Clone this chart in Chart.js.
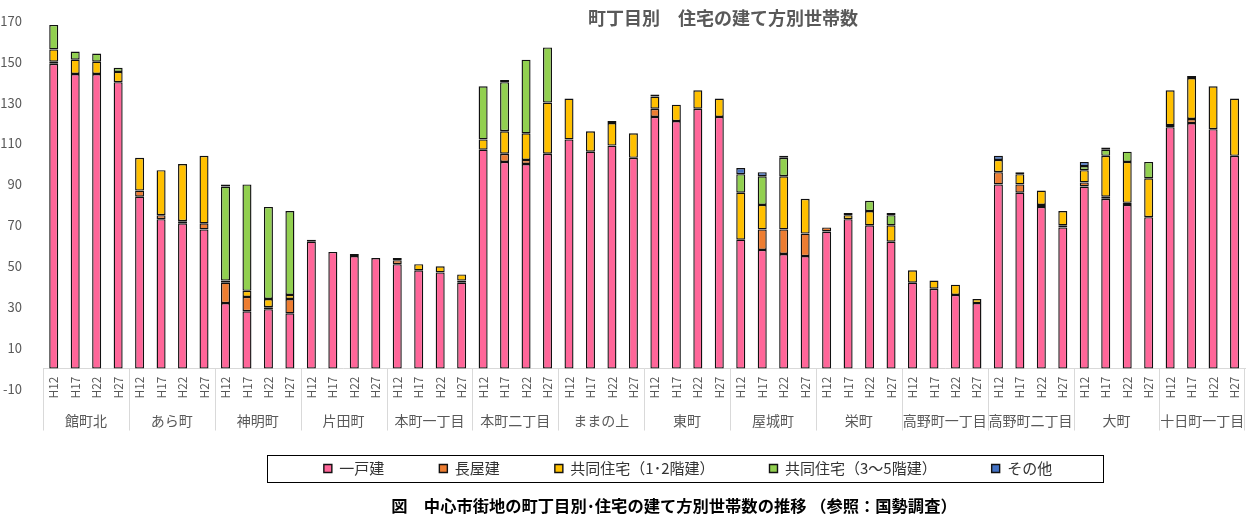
<!DOCTYPE html>
<html>
<head>
<meta charset="utf-8">
<script src="https://cdn.jsdelivr.net/npm/chart.js@4/dist/chart.umd.min.js"></script>
<style>
html, body { margin: 0; padding: 0; background: #ffffff; }
canvas { display: block; }
</style>
</head>
<body>
<canvas id="c" width="1257" height="515"></canvas>
<script>
// ---------- data ----------
const groups = ['館町北', 'あら町', '神明町', '片田町', '本町一丁目', '本町二丁目', 'ままの上',
                '東町', '屋城町', '栄町', '高野町一丁目', '高野町二丁目', '大町', '十日町一丁目'];
const years = ['H12', 'H17', 'H22', 'H27'];
const seriesNames = ['一戸建', '長屋建', '共同住宅（1･2階建）', '共同住宅（3～5階建）', 'その他'];

// each row of 4 = H12, H17, H22, H27 of one group
const detached = [
  149, 144, 144, 140,   // 館町北
   84,  73,  71,  68,   // あら町
   32,  28,  29,  27,   // 神明町
   62,  57,  55,  54,   // 片田町
   51,  48,  47,  42,   // 本町一丁目
  107, 101, 100, 105,   // 本町二丁目
  112, 106, 109, 103,   // ままの上
  123, 121, 127, 123,   // 東町
   63,  58,  56,  55,   // 屋城町
   67,  73,  70,  62,   // 栄町
   42,  39,  36,  32,   // 高野町一丁目
   90,  86,  79,  69,   // 高野町二丁目
   89,  83,  80,  74,   // 大町
  118, 120, 117, 104    // 十日町一丁目
];
const rowHouse = [
   1,  0,  0,  0,
   3,  2,  1,  3,
  10,  7,  1,  7,
   1,  0,  0,  0,
   2,  0,  0,  1,
   0,  4,  2,  0,
   0,  0,  0,  0,
   4,  0,  0,  0,
   0, 10, 12, 11,
   2,  0,  0,  0,
   0,  0,  0,  0,
   6,  4,  1,  1,
   2,  1,  1,  0,
   1,  2,  0,  0
];
const apartLow = [
   6,  7,  6,  5,
  16, 22, 28, 33,
   1,  3,  4,  2,
   0,  0,  0,  0,
   0,  3,  3,  3,
   5, 11, 13, 25,
  20, 10, 11, 12,
   6,  8,  9,  9,
  23, 12, 26, 17,
   0,  2,  7,  8,
   6,  4,  5,  2,
   6,  5,  7,  7,
   6, 20, 20, 19,
  17, 20, 21, 28
];
const apartMid = [
  12,  4,  4,  2,
   0,  0,  0,  0,
  46, 52, 45, 41,
   0,  0,  0,  0,
   0,  0,  0,  0,
  26, 24, 36, 27,
   0,  0,  0,  0,
   0,  0,  0,  0,
   9, 14,  9,  0,
   0,  0,  5,  5,
   0,  0,  0,  0,
   0,  0,  0,  0,
   2,  3,  5,  8,
   0,  0,  0,  0
];
const other = [
   0,  0,  0,  0,
   0,  0,  0,  0,
   1,  0,  0,  0,
   0,  0,  1,  0,
   1,  0,  0,  0,
   0,  1,  0,  0,
   0,  0,  1,  0,
   1,  0,  0,  0,
   3,  2,  1,  0,
   0,  1,  0,  1,
   0,  0,  0,  0,
   2,  1,  0,  0,
   2,  1,  0,  0,
   0,  1,  0,  0
];
const yTicks = [-10, 10, 30, 50, 70, 90, 110, 130, 150, 170];
const chartTitle = '町丁目別　住宅の建て方別世帯数';
const caption = '図　中心市街地の町丁目別･住宅の建て方別世帯数の推移 （参照：国勢調査）';

// ---------- build ----------
const categoryLabels = [];
groups.forEach(() => years.forEach(y => categoryLabels.push(y)));

const seriesValues = [detached, rowHouse, apartLow, apartMid, other];
const seriesColors = ['#FF6699', '#ED7D31', '#FFC000', '#92D050', '#4472C4'];

const FONT = "'Noto Sans CJK JP', 'Noto Sans', sans-serif";
Chart.defaults.font.family = FONT;

const decorPlugin = {
  id: 'decor',
  afterLayout(chart) {
    const lg = chart.legend;
    if (!lg) return;
    const dx = 688 - (lg.left + lg.right) / 2;
    lg.left += dx; lg.right += dx;
    const h = lg.bottom - lg.top;
    lg.top = 468.5 - lg.options.labels.padding - 7.5;
    lg.bottom = lg.top + h;
  },
  afterDraw(chart) {
    const ctx = chart.ctx;
    const xs = chart.scales.x, ys = chart.scales.y;
    const y0 = ys.getPixelForValue(0);
    const step = xs.getPixelForValue(1) - xs.getPixelForValue(0);
    ctx.save();
    // group separators and names
    ctx.strokeStyle = '#D9D9D9';
    ctx.lineWidth = 1;
    ctx.fillStyle = '#595959';
    ctx.font = '14px ' + FONT;
    ctx.textAlign = 'center';
    ctx.textBaseline = 'middle';
    groups.forEach((g, i) => {
      const l = xs.getPixelForValue(i * years.length) - step / 2;
      const r = xs.getPixelForValue(i * years.length + years.length - 1) + step / 2;
      const xl = Math.round(l) + 0.5;
      ctx.beginPath(); ctx.moveTo(xl, y0); ctx.lineTo(xl, y0 + 62); ctx.stroke();
      if (i === groups.length - 1) {
        const xr = Math.round(r) - 0.5;
        ctx.beginPath(); ctx.moveTo(xr, y0); ctx.lineTo(xr, y0 + 62); ctx.stroke();
      }
      ctx.fillText(g, (l + r) / 2, y0 + 52);
    });
    // legend frame
    ctx.strokeStyle = '#000000';
    ctx.strokeRect(267.5, 455.5, 836, 27);
    // title
    ctx.fillStyle = '#595959';
    ctx.font = 'bold 18px ' + FONT;
    ctx.fillText(chartTitle, 723, 18);
    // caption
    ctx.fillStyle = '#000000';
    ctx.font = 'bold 16.3px ' + FONT;
    ctx.fillText(caption, 674, 506);
    ctx.restore();
  }
};

new Chart(document.getElementById('c'), {
  type: 'bar',
  data: {
    labels: categoryLabels,
    datasets: seriesValues.map((vals, i) => ({
      label: seriesNames[i],
      data: vals,
      backgroundColor: seriesColors[i],
      borderColor: '#111111',
      borderWidth: 1.4,
      borderSkipped: false,
      barPercentage: 0.42,
      categoryPercentage: 1.0
    }))
  },
  options: {
    responsive: false,
    animation: false,
    devicePixelRatio: 1,
    layout: { padding: { top: 19, right: 5, left: 0, bottom: 46 } },
    plugins: {
      title: { display: false },
      tooltip: { enabled: false },
      legend: {
        position: 'bottom',
        labels: {
          boxWidth: 8,
          boxHeight: 8,
          padding: 55,
          color: '#333333',
          font: { size: 15, family: FONT }
        }
      }
    },
    scales: {
      x: {
        stacked: true,
        position: { y: 0 },
        grid: { display: false, drawTicks: false },
        border: { display: true, color: '#D9D9D9', width: 1 },
        ticks: {
          autoSkip: false,
          minRotation: 90,
          maxRotation: 90,
          padding: 8,
          color: '#595959',
          font: { size: 12, family: FONT }
        },
        afterFit(scale) { scale.height = 10; }
      },
      y: {
        stacked: true,
        min: -10,
        max: 170,
        grid: { display: false },
        border: { display: false },
        ticks: {
          padding: 13,
          color: '#595959',
          font: { size: 13, family: FONT }
        },
        afterBuildTicks(scale) { scale.ticks = yTicks.map(v => ({ value: v })); },
        afterFit(scale) { scale.width = 43; }
      }
    }
  },
  plugins: [decorPlugin]
});
</script>
</body>
</html>
